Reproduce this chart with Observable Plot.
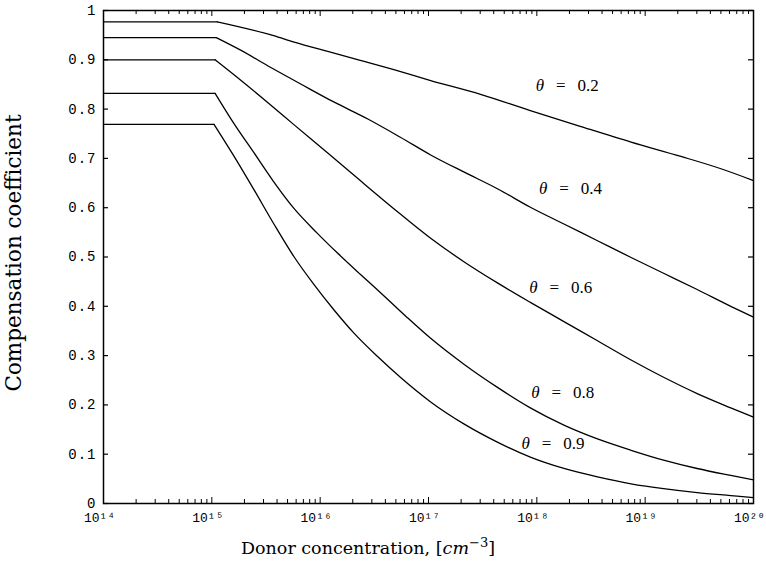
<!DOCTYPE html>
<html><head><meta charset="utf-8">
<script src="https://cdn.jsdelivr.net/npm/d3@7"></script>
<script src="https://cdn.jsdelivr.net/npm/@observablehq/plot@0.6"></script>
<style>body{margin:0;background:#fff}</style>
</head><body><div id="chart"></div>
<script>
// Series: log10(donor concentration) and compensation coefficient
const thetas = ["0.2", "0.4", "0.6", "0.8", "0.9"];
const exp02 = [14, 15.05, 15.57, 15.76, 16.07, 16.37, 16.68, 17.02, 17.48, 17.94, 18.40, 18.87, 19.33, 19.70, 20.0];
const val02 = [0.977, 0.977, 0.949, 0.936, 0.917, 0.899, 0.880, 0.858, 0.830, 0.797, 0.765, 0.733, 0.704, 0.679, 0.655];
const exp04 = [14, 15.04, 15.27, 15.54, 15.82, 16.13, 16.44, 16.74, 17.02, 17.33, 17.64, 17.94, 18.25, 18.56, 18.87, 19.17, 19.48, 19.79, 20.0];
const val04 = [0.945, 0.945, 0.919, 0.885, 0.851, 0.814, 0.780, 0.743, 0.707, 0.672, 0.638, 0.601, 0.567, 0.533, 0.499, 0.467, 0.434, 0.400, 0.378];
const exp06 = [14, 15.03, 15.27, 15.54, 15.76, 16.07, 16.37, 16.68, 17.02, 17.33, 17.64, 17.94, 18.25, 18.56, 18.87, 19.17, 19.48, 19.79, 20.0];
const val06 = [0.900, 0.900, 0.858, 0.809, 0.768, 0.711, 0.655, 0.598, 0.538, 0.490, 0.447, 0.408, 0.369, 0.330, 0.291, 0.256, 0.223, 0.194, 0.175];
const exp08 = [14, 15.03, 15.20, 15.39, 15.57, 15.76, 15.97, 16.16, 16.37, 16.59, 16.80, 17.02, 17.33, 17.64, 17.94, 18.25, 18.56, 18.87, 19.17, 19.48, 19.79, 20.0];
const val08 = [0.832, 0.832, 0.772, 0.711, 0.653, 0.598, 0.549, 0.508, 0.465, 0.421, 0.378, 0.335, 0.282, 0.235, 0.194, 0.159, 0.131, 0.108, 0.088, 0.071, 0.057, 0.048];
const exp09 = [14, 15.02, 15.20, 15.39, 15.57, 15.76, 15.94, 16.13, 16.31, 16.53, 16.74, 17.02, 17.33, 17.64, 17.94, 18.25, 18.56, 18.87, 19.17, 19.48, 19.79, 20.0];
const val09 = [0.769, 0.769, 0.706, 0.636, 0.568, 0.500, 0.445, 0.392, 0.346, 0.298, 0.256, 0.206, 0.161, 0.124, 0.094, 0.071, 0.054, 0.040, 0.030, 0.022, 0.016, 0.012];
const seriesExp = [exp02, exp04, exp06, exp08, exp09];
const seriesVal = [val02, val04, val06, val08, val09];

// Curve labels
const labelExp = [18.28, 18.31, 18.22, 18.24, 18.15];
const labelVal = [0.848, 0.639, 0.438, 0.225, 0.122];

// Ticks
const xMajorExp = [14, 15, 16, 17, 18, 19, 20];
const yTicks = [0, 0.1, 0.2, 0.3, 0.4, 0.5, 0.6, 0.7, 0.8, 0.9, 1];
const minorMult = [2, 3, 4, 5, 6, 7, 8, 9];

// flat plateau (first two points) and declining part (from the kink on)
const flatRows = [], declRows = [];
thetas.forEach((t, i) => seriesExp[i].forEach((e, j) => {
  const r = {theta: t, x: Math.pow(10, e), v: seriesVal[i][j]};
  if (j <= 1) flatRows.push(r);
  if (j >= 1) declRows.push(r);
}));
const labels = thetas.map((t, i) => ({text: "θ = " + t, x: Math.pow(10, labelExp[i]), v: labelVal[i]}));
const xMajor = xMajorExp.map(e => Math.pow(10, e));
const xMinor = [];
xMajorExp.slice(0, -1).forEach(e => minorMult.forEach(m => xMinor.push(m * Math.pow(10, e))));

const sup = {"0":"⁰","1":"¹","2":"²","3":"³","4":"⁴","5":"⁵","6":"⁶","7":"⁷","8":"⁸","9":"⁹"};
const W = 766, H = 577, mL = 103, mR = 13, mT = 10, mB = 74;
const pw = W - mL - mR, ph = H - mT - mB;
const mono = "'Liberation Mono', 'DejaVu Sans Mono', monospace";
const serif = "'DejaVu Serif', serif";

const chart = Plot.plot({
  width: W, height: H,
  marginLeft: mL, marginRight: mR, marginTop: mT, marginBottom: mB,
  style: {background: "#fff", color: "#000"},
  x: {type: "log", domain: [1e14, 1e20]},
  y: {domain: [0, 1]},
  marks: [
    Plot.ruleX(xMinor, {x: d => d, insetTop: ph - 4, stroke: "#000", strokeWidth: 1}),
    Plot.ruleX(xMinor, {x: d => d, insetBottom: ph - 4, stroke: "#000", strokeWidth: 1}),
    Plot.ruleX(xMajor, {x: d => d, insetTop: ph - 6, stroke: "#000", strokeWidth: 1}),
    Plot.ruleX(xMajor, {x: d => d, insetBottom: ph - 6, stroke: "#000", strokeWidth: 1}),
    Plot.ruleY(yTicks, {y: d => d, insetRight: pw - 5, stroke: "#000", strokeWidth: 1.2}),
    Plot.ruleY(yTicks, {y: d => d, insetLeft: pw - 5, stroke: "#000", strokeWidth: 1.2}),
    Plot.frame({stroke: "#000", strokeWidth: 1.5}),
    Plot.line(flatRows, {x: "x", y: "v", z: "theta", stroke: "#000", strokeWidth: 1.3}),
    Plot.line(declRows, {x: "x", y: "v", z: "theta", stroke: "#000", strokeWidth: 1.3, curve: "monotone-x"}),
    Plot.text(labels, {x: "x", y: "v", text: "text", fontFamily: "'Liberation Serif', serif", fontSize: 17, fill: "#000"}),
    Plot.axisX(xMajor, {tickSize: 0, tickPadding: 9, dx: -4, fontSize: 13, fontFamily: mono, label: null,
      tickFormat: d => "10" + String(Math.round(Math.log10(d))).split("").map(c => sup[c]).join("")}),
    Plot.axisY(yTicks, {tickSize: 0, tickPadding: 7, fontSize: 14, fontFamily: mono, label: null,
      tickFormat: d => d === 0 ? "0" : d === 1 ? "1" : d.toFixed(1)})
  ]
});
document.getElementById("chart").appendChild(chart);

const svg = d3.select(chart);
svg.selectAll("g[aria-label='y-axis tick label'] text").attr("letter-spacing", 1);
// italic theta in curve labels
svg.selectAll("g[aria-label='text'] text").each(function () {
  const t = d3.select(this);
  const s = t.text();
  const num = s.split("= ")[1];
  t.text(null);
  t.append("tspan").attr("font-style", "italic").text("θ");
  t.append("tspan").text("\u2002\u2009=\u2002\u2009" + num);
});
// axis titles
const xt = svg.append("text").attr("x", 368).attr("y", 554).attr("text-anchor", "middle")
  .attr("font-family", serif).attr("font-size", 17.5).attr("fill", "#000");
xt.append("tspan").text("Donor concentration, [");
xt.append("tspan").attr("font-style", "italic").text("cm");
xt.append("tspan").attr("dy", -7).attr("font-size", 13).text("−3");
xt.append("tspan").attr("dy", 7).text("]");
svg.append("text").attr("transform", "translate(21,253) rotate(-90)").attr("text-anchor", "middle")
  .attr("font-family", serif).attr("font-size", 21.5).attr("fill", "#000").text("Compensation coefficient");
</script>
</body></html>
